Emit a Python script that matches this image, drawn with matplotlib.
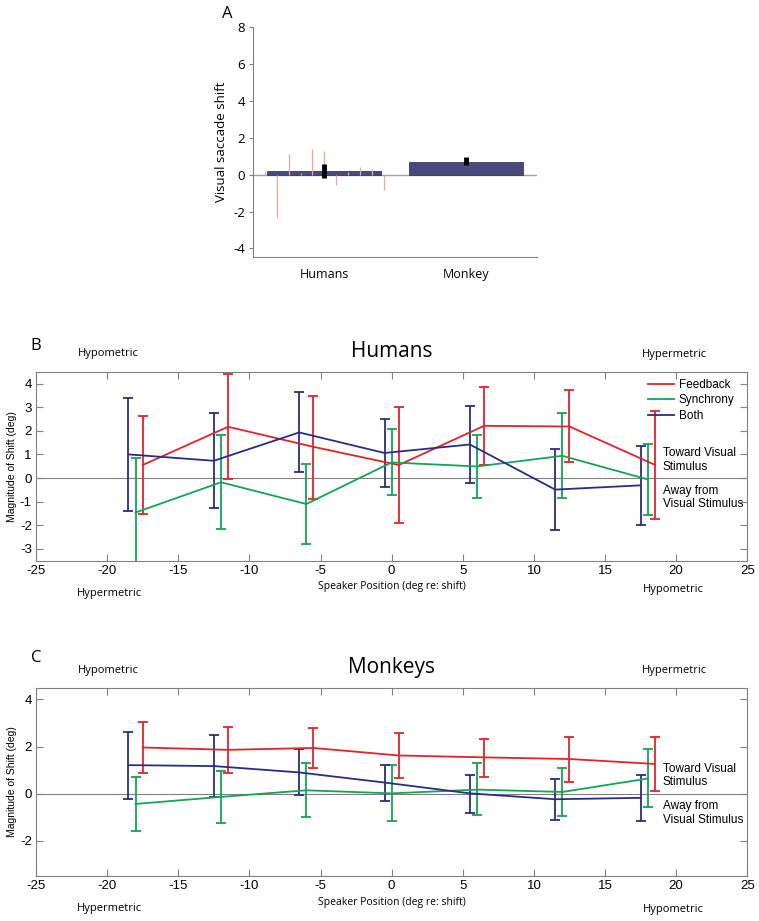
import numpy as np
import matplotlib.pyplot as plt

plt.rcParams['axes.unicode_minus'] = False

# ---------------- data
# panel A
groups = ['Humans', 'Monkey']
bar_vals = [0.2, 0.7]
bar_err_lo = [-0.2, 0.5]
bar_err_hi = [0.6, 0.95]
subj_x = [0.585, 0.668, 0.75, 0.833, 0.917, 1.0, 1.083, 1.167, 1.25, 1.333, 1.417]
subj_vals = [0.2, -2.35, 1.13, 0.1, 1.38, 1.31, -0.58, 0.15, 0.4, 0.29, -0.82]

# panels B, C: speaker positions for each condition
x_both = [-18.5, -12.5, -6.5, -0.5, 5.5, 11.5, 17.5]
x_sync = [-18.0, -12.0, -6.0, 0.0, 6.0, 12.0, 18.0]
x_feed = [-17.5, -11.5, -5.5, 0.5, 6.5, 12.5, 18.5]

# humans
hum_feed = [0.55, 2.17, 1.32, 0.55, 2.21, 2.18, 0.56]
hum_feed_hi = [2.63, 4.41, 3.49, 3.01, 3.85, 3.72, 2.85]
hum_feed_lo = [-1.54, -0.04, -0.9, -1.92, 0.55, 0.66, -1.73]
hum_sync = [-1.46, -0.18, -1.1, 0.66, 0.49, 0.94, -0.06]
hum_sync_hi = [0.83, 1.82, 0.58, 2.07, 1.82, 2.76, 1.44]
hum_sync_lo = [-4.0, -2.17, -2.8, -0.73, -0.85, -0.85, -1.55]
hum_both = [1.0, 0.73, 1.93, 1.06, 1.42, -0.49, -0.31]
hum_both_hi = [3.39, 2.76, 3.65, 2.48, 3.04, 1.21, 1.35]
hum_both_lo = [-1.41, -1.28, 0.25, -0.37, -0.21, -2.2, -1.99]

# monkeys
mon_feed = [1.96, 1.86, 1.94, 1.62, 1.54, 1.47, 1.26]
mon_feed_hi = [3.05, 2.82, 2.77, 2.57, 2.34, 2.39, 2.39]
mon_feed_lo = [0.86, 0.86, 1.1, 0.65, 0.72, 0.51, 0.13]
mon_sync = [-0.44, -0.14, 0.14, 0.01, 0.17, 0.07, 0.64]
mon_sync_hi = [0.71, 0.96, 1.31, 1.2, 1.29, 1.1, 1.88]
mon_sync_lo = [-1.57, -1.23, -1.0, -1.16, -0.92, -0.97, -0.58]
mon_both = [1.21, 1.17, 0.9, 0.47, 0.01, -0.24, -0.18]
mon_both_hi = [2.61, 2.49, 1.91, 1.21, 0.81, 0.64, 0.78]
mon_both_lo = [-0.21, -0.14, -0.06, -0.32, -0.82, -1.12, -1.16]

RED = '#e2232a'
GREEN = '#12a552'
BLUE = '#2b2d84'
GRAY = '#808080'
SANS = 'Open Sans'
ARIAL = 'Liberation Sans'

fig = plt.figure(figsize=(7.59, 9.21), dpi=100)

#------------------ A
axA = fig.add_axes([0.3337, 0.7213, 0.3742, 0.2491])
xpos = np.arange(1, len(groups) + 1)
axA.axhline(0, color='#a0a0a0', lw=1.0, zorder=1)
axA.bar(xpos, bar_vals, width=0.8, color='#4b4a7d', edgecolor='#3a3968', lw=0.6, zorder=2)
axA.vlines(subj_x, 0, subj_vals, color='#f0a49a', lw=0.9, zorder=3)
axA.vlines(xpos, bar_err_lo, bar_err_hi, color='black', lw=3.5, zorder=4)
axA.set_xlim(0.5, 2.5)
axA.set_ylim(-4.45, 8)
axA.set_yticks([-4, -2, 0, 2, 4, 6, 8])
axA.set_xticks(xpos)
axA.set_xticklabels(groups, fontfamily=SANS, fontsize=9)
for lab in axA.get_yticklabels():
    lab.set_fontfamily(SANS)
    lab.set_fontsize(9.5)
axA.tick_params(axis='x', length=0, pad=8)
axA.tick_params(axis='y', length=3, color=GRAY, pad=3)
for s in ['top', 'right']:
    axA.spines[s].set_visible(False)
for s in ['left', 'bottom']:
    axA.spines[s].set_color(GRAY)
axA.set_ylabel('Visual saccade shift', fontfamily=SANS, fontsize=9.5, labelpad=4)
axA.text(-0.09, 1.058, 'A', transform=axA.transAxes, fontfamily=SANS, fontsize=12,
         ha='center', va='center')


#------------------ B, C
def panel(ax, feed, fhi, flo, sync, shi, slo, both, bhi, blo, letter, title, yticks,
          letter_y, br_y, legend):
    ax.axhline(0, color=GRAY, lw=0.8, zorder=1)
    for xs, ys, hi, lo, c, name in [(x_feed, feed, fhi, flo, RED, 'Feedback'),
                                    (x_sync, sync, shi, slo, GREEN, 'Synchrony'),
                                    (x_both, both, bhi, blo, BLUE, 'Both')]:
        ys = np.array(ys)
        yerr = [ys - np.array(lo), np.array(hi) - ys]
        ax.errorbar(xs, ys, yerr=yerr, color=c, lw=1.3, elinewidth=1.3, capsize=3.5,
                    capthick=1.3, label=name, zorder=3)
    ax.set_xlim(-25, 25)
    ax.set_ylim(-3.5, 4.5)
    ax.set_xticks(np.arange(-25, 26, 5))
    ax.set_yticks(yticks)
    ax.tick_params(direction='in', top=True, right=True, length=5, color=GRAY,
                   labelsize=9.5, pad=3)
    for lab in ax.get_xticklabels() + ax.get_yticklabels():
        lab.set_fontfamily(ARIAL)
    for s in ax.spines.values():
        s.set_color(GRAY)
    ax.set_ylabel('Magnitude of Shift (deg)', fontfamily=ARIAL, fontsize=7.5, labelpad=2)
    tr = ax.transAxes
    ax.text(0.5, -0.139, 'Speaker Position (deg re: shift)', transform=tr, ha='center',
            va='center', fontfamily=SANS, fontsize=7.5)
    ax.text(0.5, 1.105, title, transform=tr, ha='center', va='center', fontfamily=SANS,
            fontsize=15)
    ax.text(0.0, letter_y, letter, transform=tr, ha='center', va='center',
            fontfamily=SANS, fontsize=12)
    ax.text(0.059, 1.094, 'Hypometric', transform=tr, ha='left', va='center',
            fontfamily=SANS, fontsize=8)
    ax.text(0.0576, -0.171, 'Hypermetric', transform=tr, ha='left', va='center',
            fontfamily=SANS, fontsize=8)
    ax.text(0.852, 1.089, 'Hypermetric', transform=tr, ha='left', va='center',
            fontfamily=SANS, fontsize=8)
    ax.text(0.853, br_y, 'Hypometric', transform=tr, ha='left', va='center',
            fontfamily=SANS, fontsize=8)
    ax.text(19.05, 0.77, 'Toward Visual\nStimulus', ha='left', va='center',
            fontfamily=ARIAL, fontsize=8.5, linespacing=1.15)
    ax.text(19.05, -0.83, 'Away from\nVisual Stimulus', ha='left', va='center',
            fontfamily=ARIAL, fontsize=8.5, linespacing=1.15)
    if legend:
        handles = [plt.Line2D([], [], color=c, lw=1.3) for c in (RED, GREEN, BLUE)]
        ax.legend(handles, ['Feedback', 'Synchrony', 'Both'], loc='upper left',
                  bbox_to_anchor=(0.861, 0.962), frameon=False, borderpad=0,
                  borderaxespad=0, handlelength=2.2, handletextpad=0.35,
                  labelspacing=0.3, prop={'family': ARIAL, 'size': 8.5})


axB = fig.add_axes([0.0474, 0.3912, 0.9372, 0.2052])
panel(axB, hum_feed, hum_feed_hi, hum_feed_lo, hum_sync, hum_sync_hi, hum_sync_lo,
      hum_both, hum_both_hi, hum_both_lo, 'B', 'Humans', np.arange(-3, 5, 1),
      1.136, -0.150, True)

axC = fig.add_axes([0.0474, 0.0489, 0.9372, 0.2044])
panel(axC, mon_feed, mon_feed_hi, mon_feed_lo, mon_sync, mon_sync_hi, mon_sync_lo,
      mon_both, mon_both_hi, mon_both_lo, 'C', 'Monkeys', [-2, 0, 2, 4],
      1.158, -0.177, False)

fig.savefig('out.png', dpi=100)
